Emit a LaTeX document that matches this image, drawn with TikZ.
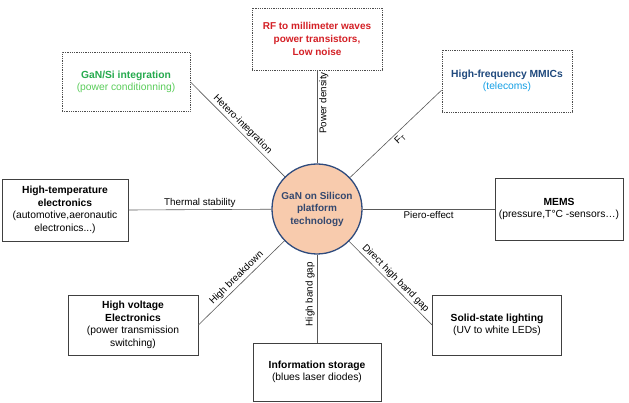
\documentclass[tikz,border=0pt]{standalone}
\usepackage{fontspec}
\setmainfont{Liberation Sans}
\usetikzlibrary{positioning}
\definecolor{rfred}{RGB}{212,32,38}
\definecolor{gansi}{RGB}{38,170,78}
\definecolor{gansilt}{RGB}{90,205,90}
\definecolor{mmic}{RGB}{31,73,125}
\definecolor{mmiclt}{RGB}{20,160,230}
\definecolor{corefill}{RGB}{248,203,173}
\definecolor{coreline}{RGB}{47,75,125}
\definecolor{coretext}{RGB}{52,72,110}

\tikzset{
  appbox/.style={draw=black!75, line width=0.8pt, fill=white, align=center,
    minimum width=128pt, minimum height=60pt, inner sep=2pt},
  hotline/.style={draw=black!70, line width=0.9pt, dash pattern=on 0.9pt off 0.9pt},
  hotbox/.style={appbox, hotline,
    append after command={\pgfextra{\draw[hotline] ([shift={(2pt,-2pt)}]\tikzlastnode.north west)
      rectangle ([shift={(-2pt,2pt)}]\tikzlastnode.south east);}}},
  link/.style={draw=black!65, line width=0.6pt},
  tag/.style={font=\fontsize{9.8}{11}\selectfont, inner sep=2pt}
}

\begin{document}
\begin{tikzpicture}[x=1pt, y=-1pt, font=\fontsize{10.3}{12.5}\selectfont]
  \useasboundingbox (0,0) rectangle (629,403);

  % Platform in the middle
  \node[circle, draw=coreline, line width=1.3pt, fill=corefill, minimum size=90pt,
    align=center, text=coretext, font=\fontsize{10}{12.5}\selectfont\bfseries] (core) at (317,209)
    {GaN on Silicon\\platform\\technology};

  % Dotted boxes (top)
  \node[hotbox, minimum width=130pt, minimum height=62pt, text=rfred, font=\fontsize{10}{12.7}\selectfont\bfseries] (rf) at (317,39)
    {RF to millimeter waves\\power transistors,\\Low noise};
  \node[hotbox, minimum width=128pt, minimum height=59pt] (gansi) at (126,82)
    {\textcolor{gansi}{\textbf{GaN/Si integration}}\\\textcolor{gansilt}{(power conditionning)}};
  \node[hotbox, minimum width=130pt, minimum height=62pt] (mmic) at (507,81)
    {\textcolor{mmic}{\textbf{High-frequency MMICs}}\\\textcolor{mmiclt}{(telecoms)}};

  % Plain boxes
  \node[appbox, minimum width=126pt, minimum height=62pt] (htemp) at (65,210)
    {\textbf{High-temperature}\\\textbf{electronics}\\(automotive,aeronautic\\electronics...)};
  \node[appbox, minimum width=128pt, minimum height=62pt] (mems) at (559,209)
    {\textbf{MEMS}\\(pressure,T°C -sensors…)};
  \node[appbox, minimum width=130pt, minimum height=60pt] (hv) at (133,325)
    {\textbf{High voltage}\\\textbf{Electronics}\\(power transmission\\switching)};
  \node[appbox, minimum width=128pt, minimum height=58pt] (info) at (317,372)
    {\textbf{Information storage}\\(blues laser diodes)};
  \node[appbox, minimum width=129pt, minimum height=60pt] (ssl) at (497,325)
    {\textbf{Solid-state lighting}\\(UV to white LEDs)};

  % Links with their property
  \draw[link] (core) -- node[tag, sloped, below, pos=0.65] {Power density} (rf.south);
  \draw[link] (gansi.east) -- node[tag, sloped, above] {Hetero-integration} (core);
  \draw[link] (core) -- node[tag, sloped, below] {F\textsubscript{T}} (mmic.188);
  \draw[link] (htemp.east) -- node[tag, above] {Thermal stability} (core);
  \draw[link] (core) -- node[tag, below] {Piero-effect} (mems.west);
  \draw[link] (hv.east) -- node[tag, sloped, above] {High breakdown} (core);
  \draw[link] (info.north) -- node[tag, sloped, above, pos=0.55] {High band gap} (core);
  \draw[link] (core) -- node[tag, sloped, above] {Direct high band gap} (ssl.west);
\end{tikzpicture}
\end{document}
